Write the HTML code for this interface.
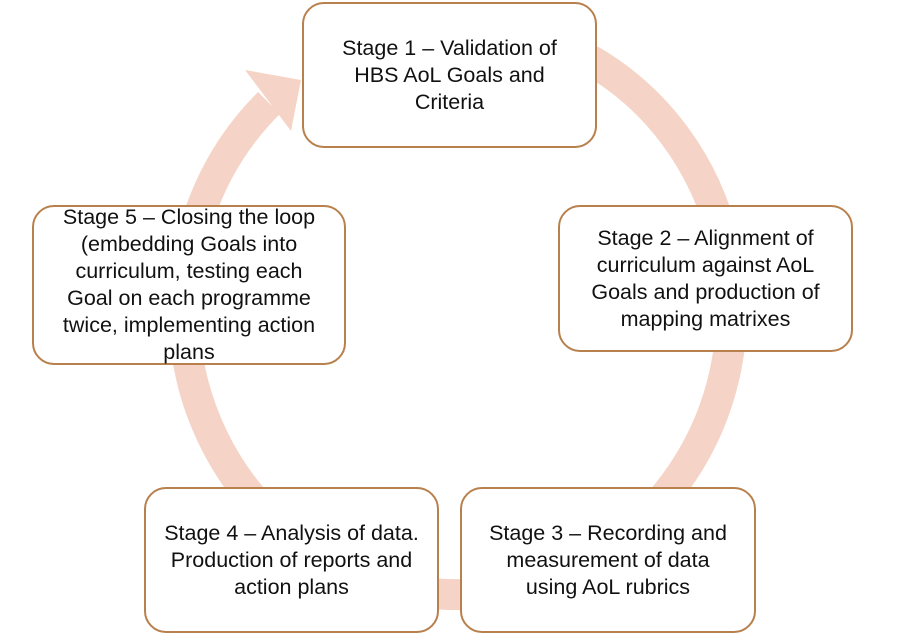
<!DOCTYPE html>
<html><head><meta charset="utf-8"><style>
body{margin:0;width:898px;height:633px;background:#fff;position:relative;overflow:hidden;font-family:"Liberation Sans",sans-serif}
.b{position:absolute;box-sizing:border-box;border:2px solid #b8804c;border-radius:22px;background:#fff;display:flex;align-items:center;justify-content:center;text-align:center;font-size:21.5px;line-height:27px;color:#111;white-space:nowrap}
</style></head><body>
<svg width="898" height="633" style="position:absolute;left:0;top:0">
<path d="M590 60 A274 285 0 1 1 269 103" fill="none" stroke="#f5d4c7" stroke-width="31"/>
<polygon points="245,70 301,80 291,131" fill="#f5d4c7"/>
</svg>
<div class="b" style="left:302px;top:2px;width:295px;height:146px">Stage 1 – Validation of<br>HBS AoL Goals and<br>Criteria</div>
<div class="b" style="left:558px;top:205px;width:295px;height:147px">Stage 2 – Alignment of<br>curriculum against AoL<br>Goals and production of<br>mapping matrixes</div>
<div class="b" style="left:460px;top:487px;width:296px;height:146px">Stage 3 – Recording and<br>measurement of data<br>using AoL rubrics</div>
<div class="b" style="left:144px;top:487px;width:295px;height:146px">Stage 4 – Analysis of data.<br>Production of reports and<br>action plans</div>
<div class="b" style="left:32px;top:205px;width:314px;height:160px">Stage 5 – Closing the loop<br>(embedding Goals into<br>curriculum, testing each<br>Goal on each programme<br>twice, implementing action<br>plans</div>
</body></html>
